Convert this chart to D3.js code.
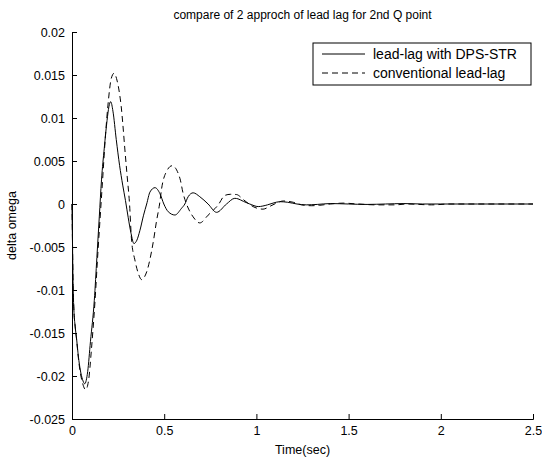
<!DOCTYPE html>
<html>
<head>
<meta charset="utf-8">
<script src="https://cdn.jsdelivr.net/npm/d3@7"></script>
<style>
  body { margin: 0; background: #fff; }
  svg text { font-family: "Liberation Sans", Arial, sans-serif; fill: #000; }
</style>
</head>
<body>
<div id="chart"></div>
<script>
// lead-lag with DPS-STR (solid)
let tSolid = [0, 0.003, 0.006, 0.01, 0.017, 0.025, 0.035, 0.045, 0.057, 0.069, 0.085, 0.1, 0.121, 0.135, 0.148, 0.16, 0.175, 0.19, 0.2, 0.21, 0.222, 0.24, 0.258, 0.275, 0.29, 0.305, 0.32, 0.336, 0.352, 0.368, 0.388, 0.405, 0.423, 0.45, 0.477, 0.498, 0.522, 0.558, 0.594, 0.612, 0.63, 0.657, 0.693, 0.738, 0.784, 0.838, 0.883, 0.9, 0.93, 0.964, 1.01, 1.06, 1.09, 1.127, 1.17, 1.22, 1.27, 1.33, 1.4, 1.5, 1.6, 1.7, 1.8, 1.9, 2.0, 2.2, 2.5];
let vSolid = [0, -0.005, -0.0095, -0.0122, -0.0142, -0.0157, -0.0178, -0.0193, -0.0204, -0.0209, -0.0195, -0.016, -0.0112, -0.0062, -0.0015, 0.0028, 0.0065, 0.0097, 0.0113, 0.0119, 0.0108, 0.0075, 0.0045, 0.0022, 0.0004, -0.0016, -0.0034, -0.0046, -0.0042, -0.0031, -0.0013, 0, 0.0014, 0.0019, 0.0012, 0, -0.0009, -0.00128, -0.0005, 0, 0.00085, 0.0013, 0.00085, 0, -0.00097, 0, 0.00066, 0.0006, 0.0003, 0, -0.0003, -0.0001, 0.0001, 0.00027, 0.0002, 0, -0.0001, -0.00005, 0.00005, 0, -0.00005, 0, 0.00005, 0, 0, 0, 0];

// conventional lead-lag (dashed)
let tDash = [0, 0.003, 0.006, 0.01, 0.017, 0.025, 0.035, 0.045, 0.057, 0.074, 0.09, 0.105, 0.125, 0.14, 0.155, 0.168, 0.18, 0.195, 0.213, 0.228, 0.245, 0.258, 0.267, 0.276, 0.285, 0.298, 0.312, 0.323, 0.341, 0.36, 0.378, 0.395, 0.408, 0.423, 0.44, 0.459, 0.475, 0.486, 0.513, 0.543, 0.585, 0.603, 0.621, 0.635, 0.657, 0.693, 0.738, 0.793, 0.829, 0.86, 0.892, 0.93, 0.96, 0.982, 1.036, 1.07, 1.109, 1.145, 1.2, 1.244, 1.3, 1.343, 1.4, 1.47, 1.55, 1.65, 1.75, 1.82, 1.95, 2.05, 2.2, 2.35, 2.5];
let vDash = [0, -0.005, -0.0095, -0.0122, -0.0142, -0.0158, -0.018, -0.0196, -0.0208, -0.0216, -0.0205, -0.017, -0.0112, -0.0058, -0.0008, 0.0035, 0.0075, 0.0115, 0.0146, 0.0152, 0.0143, 0.0128, 0.0113, 0.0092, 0.0068, 0.0035, 0, -0.0042, -0.0065, -0.0081, -0.0088, -0.0084, -0.0077, -0.0064, -0.0045, -0.0019, 0, 0.0018, 0.0038, 0.00445, 0.003, 0.0012, 0, -0.0007, -0.0015, -0.0022, -0.0013, -0.0001, 0.001, 0.00113, 0.0011, 0.0005, 0, -0.0003, -0.0006, -0.0003, 0.0001, 0.00035, 0.0002, -0.0001, -0.0002, -0.00015, 0, 0.0001, 0, -0.0001, -0.0001, 0, -0.0001, 0, 0, 0, 0];

let xTicks = [0, 0.5, 1, 1.5, 2, 2.5];
let yTicks = [-0.025, -0.02, -0.015, -0.01, -0.005, 0, 0.005, 0.01, 0.015, 0.02];
let seriesNames = ["lead-lag with DPS-STR", "conventional lead-lag"];

let width = 542, height = 459;
let margin = {top: 32, right: 9, bottom: 40, left: 72};

let svg = d3.select("#chart").append("svg")
    .attr("width", width)
    .attr("height", height);

let x = d3.scaleLinear().domain([0, 2.5]).range([margin.left, width - margin.right]);
let y = d3.scaleLinear().domain([-0.025, 0.02]).range([height - margin.bottom, margin.top]);

// axes (ticks point inward like matlab)
let xAxis = svg.append("g")
    .attr("transform", "translate(0," + (height - margin.bottom) + ")")
    .call(d3.axisBottom(x).tickValues(xTicks).tickSize(-5).tickPadding(8)
        .tickFormat(d => d));
let yAxis = svg.append("g")
    .attr("transform", "translate(" + margin.left + ",0)")
    .call(d3.axisLeft(y).tickValues(yTicks).tickSize(-5).tickPadding(7)
        .tickFormat(d => d));

[xAxis, yAxis].forEach(a => {
    a.select(".domain").attr("stroke", "#000").attr("stroke-width", 1);
    a.selectAll(".tick line").attr("stroke", "#000");
    a.selectAll(".tick text").style("font-size", "12.5px").attr("fill", "#000");
});
xAxis.selectAll(".tick text").attr("dy", "0.6em");

let line = d3.line()
    .x(d => x(d[0]))
    .y(d => y(d[1]))
    .curve(d3.curveMonotoneX);

svg.append("path")
    .datum(d3.zip(tDash, vDash))
    .attr("d", line)
    .attr("fill", "none")
    .attr("stroke", "#000")
    .attr("stroke-width", 1)
    .attr("stroke-dasharray", "6,4");

svg.append("path")
    .datum(d3.zip(tSolid, vSolid))
    .attr("d", line)
    .attr("fill", "none")
    .attr("stroke", "#000")
    .attr("stroke-width", 1);

// title and axis labels
svg.append("text")
    .attr("x", (margin.left + width - margin.right) / 2)
    .attr("y", 19)
    .attr("text-anchor", "middle")
    .style("font-size", "12px")
    .text("compare of 2 approch of lead lag for 2nd Q point");

svg.append("text")
    .attr("x", (margin.left + width - margin.right) / 2)
    .attr("y", 454)
    .attr("text-anchor", "middle")
    .style("font-size", "12.5px")
    .text("Time(sec)");

svg.append("text")
    .attr("transform", "translate(16," + ((margin.top + height - margin.bottom) / 2) + ") rotate(-90)")
    .attr("text-anchor", "middle")
    .style("font-size", "12.5px")
    .text("delta omega");

// legend
let legend = svg.append("g").attr("transform", "translate(313,43)");
legend.append("rect")
    .attr("width", 218).attr("height", 42)
    .attr("fill", "#fff").attr("stroke", "#000");
seriesNames.forEach(function (name, i) {
    let ly = 11 + i * 19;
    legend.append("line")
        .attr("x1", 9).attr("x2", 52)
        .attr("y1", ly).attr("y2", ly)
        .attr("stroke", "#000")
        .attr("stroke-dasharray", i === 1 ? "6,4" : null);
    legend.append("text")
        .attr("x", 60).attr("y", ly)
        .attr("dy", "0.36em")
        .style("font-size", "14px")
        .text(name);
});
</script>
</body>
</html>
